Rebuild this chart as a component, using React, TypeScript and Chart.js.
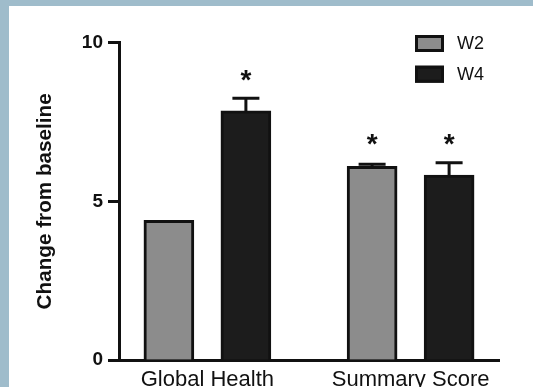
import React, { useEffect, useRef } from "react";
import { Chart, registerables } from "chart.js";

Chart.register(...registerables);

// ---- data ----
const categories = ["Global Health", "Summary Score"];
const seriesLabels = ["W2", "W4"];
const w2Values = [4.4, 6.1];
const w4Values = [7.85, 5.83];
const w2Errors = [0, 0.07];
const w4Errors = [0.4, 0.39];
// significance asterisk levels (null = none)
const w2Stars: (number | null)[] = [null, 6.95];
const w4Stars: (number | null)[] = [8.97, 6.95];
const yTicks = [0, 5, 10];

const FONT = '"Liberation Sans", Arial, Helvetica, sans-serif';
const INK = "#111111";

const errorBarPlugin = {
  id: "errorBars",
  afterDatasetsDraw(chart: any) {
    const ctx = chart.ctx;
    const y = chart.scales.y;
    chart.data.datasets.forEach((ds: any, i: number) => {
      const meta = chart.getDatasetMeta(i);
      meta.data.forEach((bar: any, j: number) => {
        const v = ds.data[j].y;
        const e = ds.errors ? ds.errors[j] : 0;
        if (e > 0) {
          const top = y.getPixelForValue(v + e);
          ctx.save();
          ctx.strokeStyle = INK;
          ctx.lineWidth = 3;
          ctx.beginPath();
          ctx.moveTo(bar.x, bar.y);
          ctx.lineTo(bar.x, top);
          ctx.moveTo(bar.x - 13.5, top);
          ctx.lineTo(bar.x + 13.5, top);
          ctx.stroke();
          ctx.restore();
        }
        const s = ds.stars ? ds.stars[j] : null;
        if (s !== null && s !== undefined) {
          const p = y.getPixelForValue(s);
          ctx.save();
          ctx.fillStyle = INK;
          ctx.font = `bold 28px ${FONT}`;
          ctx.textAlign = "center";
          ctx.textBaseline = "alphabetic";
          const m = ctx.measureText("*");
          const asc = m.actualBoundingBoxAscent;
          const desc = m.actualBoundingBoxDescent;
          ctx.fillText("*", bar.x, p + (asc - desc) / 2);
          ctx.restore();
        }
      });
    });
  },
};

const legendPlugin = {
  id: "boxLegend",
  afterDraw(chart: any, _args: any, opts: any) {
    const ctx = chart.ctx;
    chart.data.datasets.forEach((ds: any, i: number) => {
      const x = opts.x;
      const y = opts.y + i * opts.spacing;
      const w = opts.boxWidth;
      const h = opts.boxHeight;
      ctx.save();
      ctx.fillStyle = ds.backgroundColor;
      ctx.fillRect(x, y, w, h);
      ctx.lineWidth = 3;
      ctx.strokeStyle = ds.borderColor;
      ctx.strokeRect(x + 1.5, y + 1.5, w - 3, h - 3);
      ctx.fillStyle = INK;
      ctx.font = `18px ${FONT}`;
      ctx.textAlign = "left";
      ctx.textBaseline = "middle";
      ctx.fillText(ds.label, x + w + opts.gap, y + h / 2 + 1);
      ctx.restore();
    });
  },
};

export default function App() {
  const ref = useRef<HTMLCanvasElement | null>(null);

  useEffect(() => {
    if (!ref.current) return;
    const chart = new Chart(ref.current, {
      type: "bar",
      data: {
        datasets: [
          {
            label: seriesLabels[0],
            data: categories.map((_, i) => ({ x: i, y: w2Values[i] })),
            errors: w2Errors,
            stars: w2Stars,
            backgroundColor: "#8c8c8c",
            borderColor: INK,
            borderWidth: 3,
            barThickness: 77,
            maxBarThickness: 50,
          } as any,
          {
            label: seriesLabels[1],
            data: categories.map((_, i) => ({ x: i, y: w4Values[i] })),
            errors: w4Errors,
            stars: w4Stars,
            backgroundColor: "#1c1c1c",
            borderColor: INK,
            borderWidth: 3,
            barThickness: 77,
            maxBarThickness: 50,
          } as any,
        ],
      },
      options: {
        animation: false,
        responsive: false,
        devicePixelRatio: 1,
        layout: { padding: { left: 0, right: 34, top: 42.7, bottom: 0 } },
        plugins: {
          legend: { display: false },
          tooltip: { enabled: false },
          boxLegend: { x: 415, y: 35, spacing: 30.7, boxWidth: 29, boxHeight: 17, gap: 13 },
        } as any,
        scales: {
          x: {
            type: "linear",
            offset: false,
            min: -0.435,
            max: 1.435,
            afterBuildTicks: (axis: any) => {
              axis.ticks = categories.map((_, i) => ({ value: i }));
            },
            afterFit: (axis: any) => {
              axis.height = 27;
            },
            ticks: {
              callback: (v: any) => categories[v as number] ?? "",
              font: { family: FONT, size: 22 },
              color: INK,
              padding: 7,
              maxRotation: 0,
              autoSkip: false,
            },
            grid: { display: false, drawTicks: false, offset: false },
            border: { display: true, color: INK, width: 3 },
          },
          y: {
            min: 0,
            max: 10,
            afterBuildTicks: (axis: any) => {
              axis.ticks = yTicks.map((v) => ({ value: v }));
            },
            afterFit: (axis: any) => {
              axis.width = 119;
            },
            ticks: {
              font: { family: FONT, size: 19, weight: "bold" },
              color: INK,
              padding: 5,
            },
            grid: {
              display: true,
              drawOnChartArea: false,
              drawTicks: true,
              tickLength: 11,
              tickWidth: 3,
              tickColor: INK,
            },
            border: { display: true, color: INK, width: 3 },
            title: {
              display: true,
              text: "Change from baseline",
              color: INK,
              font: { family: FONT, size: 20.7, weight: "bold" },
              padding: { top: 32.6, bottom: 0 },
            },
          },
        },
      },
      plugins: [errorBarPlugin, legendPlugin],
    });
    return () => chart.destroy();
  }, []);

  return (
    <div
      style={{
        position: "fixed",
        left: 0,
        top: 0,
        width: 533,
        height: 387,
        background: "#9fbccb",
        overflow: "hidden",
      }}
    >
      <div
        style={{
          position: "absolute",
          left: 9,
          top: 6,
          width: 524,
          height: 381,
          background: "#ffffff",
        }}
      />
      <canvas
        ref={ref}
        width={533}
        height={387}
        style={{ position: "absolute", left: 0, top: 0, width: 533, height: 387 }}
      />
    </div>
  );
}
